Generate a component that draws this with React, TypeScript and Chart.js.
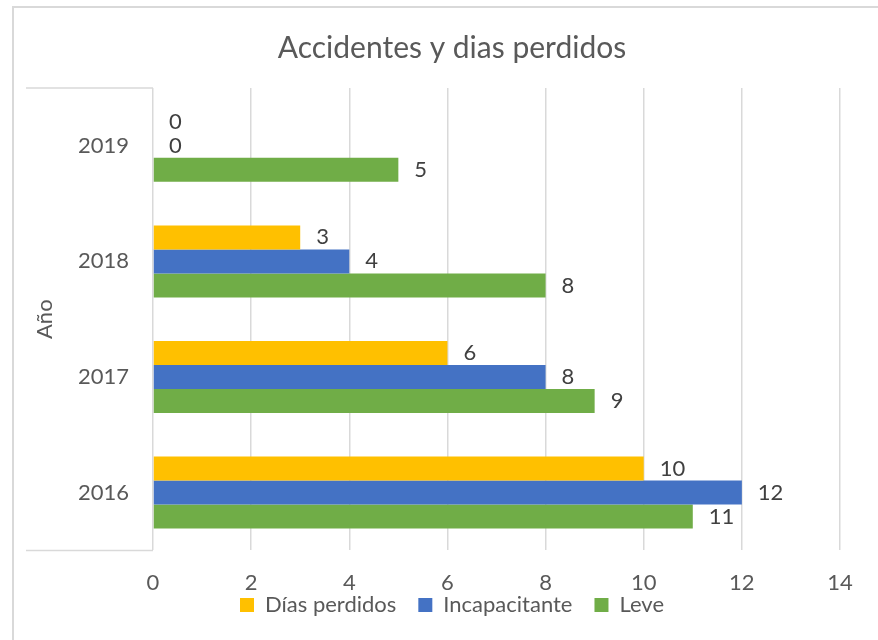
import React, { useEffect, useRef } from 'react';
import { Chart, registerables } from 'chart.js';

Chart.register(...registerables);

const chartTitle = 'Accidentes y dias perdidos';
const yAxisTitle = 'Año';
const years = ['2019', '2018', '2017', '2016'];
const diasPerdidos = [0, 3, 6, 10];
const incapacitante = [0, 4, 8, 12];
const leve = [5, 8, 9, 11];
const seriesNames = ['Días perdidos', 'Incapacitante', 'Leve'];
const seriesColors = ['#FFC000', '#4472C4', '#70AD47'];
const xMin = 0;
const xMax = 14;
const xStep = 2;

const FONT = 'Lato';
const TEXT = '#595959';
const GRID = '#d9d9d9';

const decorPlugin = {
  id: 'decor',
  beforeDraw(chart: any) {
    const { ctx, chartArea } = chart;
    ctx.save();
    ctx.fillStyle = '#ffffff';
    ctx.fillRect(0, 0, chart.width, chart.height);
    ctx.strokeStyle = GRID;
    ctx.lineWidth = 2;
    ctx.beginPath();
    ctx.moveTo(13, chart.height);
    ctx.lineTo(13, 7);
    ctx.lineTo(chart.width, 7);
    ctx.stroke();
    ctx.lineWidth = 1.5;
    ctx.beginPath();
    ctx.moveTo(26, chartArea.top);
    ctx.lineTo(chartArea.left, chartArea.top);
    ctx.moveTo(26, chartArea.bottom);
    ctx.lineTo(chartArea.left, chartArea.bottom);
    ctx.stroke();
    ctx.restore();
  },
  afterLayout(chart: any) {
    const L = 26;
    const R = chart.width;
    for (const b of [chart.titleBlock, chart.legend]) {
      if (b) {
        b.left = L;
        b.right = R;
        b.width = R - L;
      }
    }
    if (chart.legend) {
      chart.legend.top = 572;
    }
  },
  afterDatasetsDraw(chart: any) {
    const { ctx } = chart;
    ctx.save();
    ctx.font = `22px ${FONT}`;
    ctx.fillStyle = '#404040';
    ctx.textAlign = 'left';
    ctx.textBaseline = 'middle';
    chart.data.datasets.forEach((ds: any, di: number) => {
      const meta = chart.getDatasetMeta(di);
      meta.data.forEach((bar: any, i: number) => {
        ctx.fillText(String(ds.data[i]), bar.x + 16, bar.y);
      });
    });
    ctx.restore();
  },
};

export default function App() {
  const ref = useRef<HTMLCanvasElement | null>(null);
  useEffect(() => {
    if (!ref.current) return;
    const seriesData = [diasPerdidos, incapacitante, leve];
    const chart = new Chart(ref.current, {
      type: 'bar',
      data: {
        labels: years,
        datasets: seriesNames.map((name, i) => ({
          label: name,
          data: seriesData[i],
          backgroundColor: seriesColors[i],
          borderWidth: 0,
          categoryPercentage: 0.623,
          barPercentage: 1,
        })),
      },
      options: {
        indexAxis: 'y',
        responsive: false,
        animation: false,
        devicePixelRatio: 1,
        layout: { padding: { left: 30, right: 38, top: 0, bottom: -20 } },
        plugins: {
          title: {
            display: true,
            text: chartTitle,
            color: TEXT,
            font: { family: FONT, size: 30, weight: 'normal' },
            padding: { top: 30, bottom: 22 },
          },
          legend: {
            display: true,
            position: 'bottom',
            maxHeight: 44,
            labels: {
              color: TEXT,
              font: { family: FONT, size: 22 },
              boxWidth: 14,
              boxHeight: 14,
              padding: 22,
            },
          },
          tooltip: { enabled: false },
        },
        scales: {
          x: {
            type: 'linear',
            min: xMin,
            max: xMax,
            ticks: { stepSize: xStep, color: TEXT, font: { family: FONT, size: 22 }, padding: 19.6 },
            grid: { color: GRID, lineWidth: 1.5, drawTicks: false },
            border: { display: false },
          },
          y: {
            type: 'category',
            ticks: { color: TEXT, font: { family: FONT, size: 22 }, padding: 24 },
            grid: { display: false, drawTicks: false },
            border: { display: false },
            title: {
              display: true,
              text: yAxisTitle,
              color: TEXT,
              font: { family: FONT, size: 22 },
              padding: { top: 2, bottom: 0 },
            },
            afterFit: (s: any) => {
              s.width = 123;
            },
          },
        },
      },
      plugins: [decorPlugin],
    } as any);
    return () => chart.destroy();
  }, []);
  return (
    <div style={{ position: 'fixed', left: 0, top: 0, width: 878, height: 640, background: '#fff' }}>
      <canvas ref={ref} width={878} height={640} style={{ display: 'block' }} />
    </div>
  );
}
